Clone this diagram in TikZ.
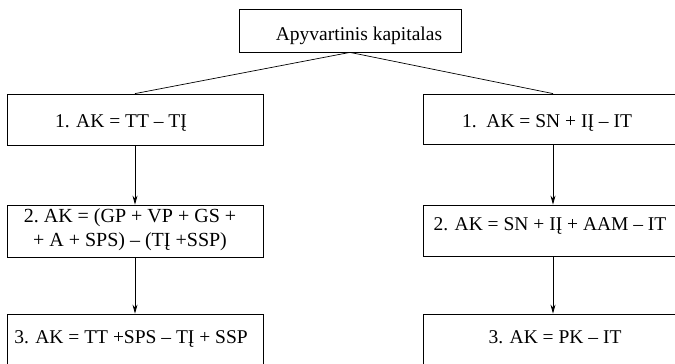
\documentclass[tikz,border=0pt]{standalone}
\usepackage{fontspec}
\setmainfont{Liberation Serif}
\usetikzlibrary{arrows.meta}
\begin{document}
\begin{tikzpicture}[x=1pt,y=-1pt,
  box/.style={draw, line width=0.8pt, inner sep=0pt},
  txt/.style={inner sep=0pt, anchor=base, align=center,
    font=\fontsize{19.5}{24}\selectfont},
  link/.style={line width=0.7pt},
  arr/.style={line width=0.7pt, -{Stealth[length=9pt,width=5pt]}}]
\useasboundingbox (0,0) rectangle (675,364);
\clip (0,0) rectangle (675,364);
% boxes
\node[box, minimum width=222pt, minimum height=43pt] (top) at (350,30.5) {};
\node[box, minimum width=256pt, minimum height=51pt] (l1) at (135,119.5) {};
\node[box, minimum width=256pt, minimum height=52pt] (l2) at (135,231) {};
\node[box, minimum width=256pt, minimum height=56pt] (l3) at (135,342) {};
\node[box, minimum width=260pt, minimum height=50pt] (r1) at (553,119) {};
\node[box, minimum width=260pt, minimum height=51pt] (r2) at (553,230.5) {};
\node[box, minimum width=260pt, minimum height=56pt] (r3) at (553,342) {};
% texts
\node[txt] (topt) at (359,40) {Apyvartinis kapitalas};
\node[txt] (l1t) at (121,127) {1. AK = TT – TĮ};
\node[txt, anchor=center, font=\fontsize{20}{24}\selectfont] (l2t) at (130,230) {2.\ AK = (GP + VP + GS +\\+ A + SPS) – (TĮ +SSP)};
\node[txt] (l3t) at (131,343) {3. AK = TT +SPS – TĮ + SSP};
\node[txt] (r1t) at (547,127) {1.\ \ AK = SN + IĮ – IT};
\node[txt] (r2t) at (550,230) {2. AK = SN + IĮ + AAM – IT};
\node[txt] (r3t) at (555,343) {3. AK = PK – IT};
% connectors
\draw[link] (top.south) -- (l1.north);
\draw[link] (top.south) -- (r1.north);
\draw[arr] (l1.south) -- (l2.north);
\draw[arr] (l2.south) -- (l3.north);
\draw[arr] (r1.south) -- (r2.north);
\draw[arr] (r2.south) -- (r3.north);
\end{tikzpicture}
\end{document}
